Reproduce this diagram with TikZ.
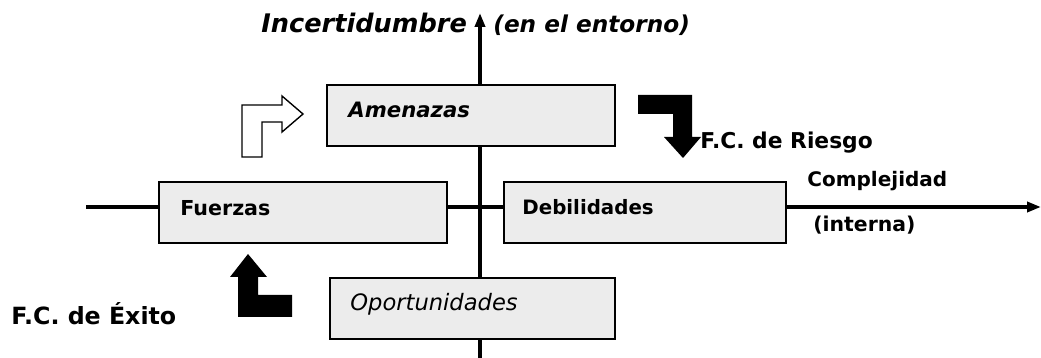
\documentclass[tikz,border=0pt]{standalone}
\usepackage{fontspec}
\setmainfont{DejaVu Sans}
\usepackage{tikz}
\usetikzlibrary{arrows.meta,positioning}

\tikzset{
  caja/.style={rectangle, draw, line width=1pt, fill=gray!15, anchor=north west, inner sep=0pt},
  eje/.style={line width=2pt, -{Triangle[width=5pt,length=7pt]}},
  etiq/.style={anchor=base west, inner sep=0pt, font=\bfseries\fontsize{10.3}{12}\selectfont},
  flecha/.style={fill=black},
}

\begin{document}
\begin{tikzpicture}[x=0.5pt,y=-0.5pt]

    \useasboundingbox (0,0) rectangle (1041,358);

    % Axes
    \coordinate (ejeIzq) at (86,207);
    \coordinate (ejeDer) at (1041,207);
    \coordinate (ejeAbajo) at (480,358);
    \coordinate (ejeArriba) at (480,13);
    \draw[eje] (ejeIzq) -- (ejeDer);
    \draw[eje] (ejeAbajo) -- (ejeArriba);

    % Boxes
    \node[caja, minimum width=144pt, minimum height=30.5pt] (amenazas) at (326,84) {};
    \node[caja, minimum width=144pt, minimum height=30.5pt] (fuerzas) at (158,181) {};
    \node[caja, minimum width=141pt, minimum height=30.5pt] (debilidades) at (503,181) {};
    \node[caja, minimum width=142.5pt, minimum height=30.5pt] (oportunidades) at (329,277) {};

    % Box labels
    \node[etiq, font=\bfseries\itshape\fontsize{10.6}{12}\selectfont] (tAmenazas) at (348,118) {Amenazas};
    \node[etiq] (tFuerzas) at (180,216) {Fuerzas};
    \node[etiq, font=\bfseries\fontsize{9.9}{12}\selectfont] (tDebilidades) at (522,215) {Debilidades};
    \node[etiq, font=\itshape\fontsize{11.3}{13}\selectfont] (tOportunidades) at (350,311) {Oportunidades};

    % Axis labels
    \node[etiq, font=\bfseries\itshape\fontsize{12.8}{14}\selectfont] (incert) at (261,33) {Incertidumbre};
    \node[etiq, font=\bfseries\itshape\fontsize{11.6}{14}\selectfont] (entorno) at (493,33) {(en el entorno)};
    \node[etiq, font=\bfseries\fontsize{10}{12}\selectfont] (complej) at (807,187) {Complejidad};
    \node[etiq, font=\bfseries\fontsize{10.2}{12}\selectfont] (interna) at (813,232) {(interna)};
    \node[etiq, font=\bfseries\fontsize{10.9}{13}\selectfont] (riesgo) at (700,149) {F.C. de Riesgo};
    \node[etiq, font=\bfseries\fontsize{11.85}{13}\selectfont] (exito) at (11,325) {F.C. de Éxito};

    % Block arrows
    \draw[line width=0.7pt, fill=white] (242,157) -- (242,105) -- (282,105) -- (282,96) -- (303,114)
      -- (282,132) -- (282,122) -- (262,122) -- (262,157) -- cycle;
    \fill[flecha] (638,95) -- (692,95) -- (692,137) -- (701,137) -- (683,158) -- (664,137)
      -- (673,137) -- (673,114) -- (638,114) -- cycle;
    \fill[flecha] (248,254) -- (267,277) -- (258,277) -- (258,295) -- (292,295) -- (292,317)
      -- (238,317) -- (238,277) -- (230,277) -- cycle;

\end{tikzpicture}
\end{document}
